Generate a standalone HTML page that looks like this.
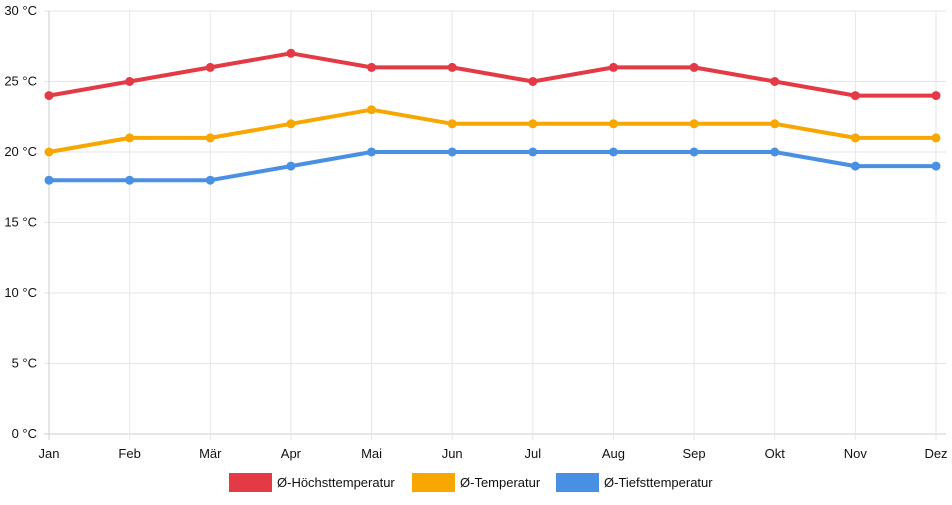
<!DOCTYPE html>
<html><head><meta charset="utf-8"><style>
body{margin:0;background:#fff;font-family:"Liberation Sans",sans-serif;}
svg text{font-family:"Liberation Sans",sans-serif;font-size:13px;fill:#111;}
</style></head><body>
<svg id="c" width="952" height="500"></svg>
<script>
const months=["Jan","Feb","Mär","Apr","Mai","Jun","Jul","Aug","Sep","Okt","Nov","Dez"];
const highs=[24,25,26,27,26,26,25,26,26,25,24,24];
const avgs=[20,21,21,22,23,22,22,22,22,22,21,21];
const lows=[18,18,18,19,20,20,20,20,20,20,19,19];
const yTicks=[0,5,10,15,20,25,30];
const seriesNames=["Ø-Höchsttemperatur","Ø-Temperatur","Ø-Tiefsttemperatur"];
const colors=["#e33a45","#f8a600","#4a90e2"];
const NS="http://www.w3.org/2000/svg";
const svg=document.getElementById('c');
const x0=49,x1=936,yTop=11,yBot=434;
const X=i=>x0+i*(x1-x0)/(months.length-1);
const Y=v=>yBot-v*(yBot-yTop)/30;
function mk(t,a,p){const e=document.createElementNS(NS,t);for(const k in a)e.setAttribute(k,a[k]);(p||svg).appendChild(e);return e;}
yTicks.forEach(v=>{
  const l=mk('line',{x1:x0-5,x2:x1+10,y1:Y(v),y2:Y(v),stroke:v===0?'#ccc':'#e6e6e6'});
  
  
  const t=mk('text',{x:37,y:Y(v)+4,'text-anchor':'end'});t.textContent=v+' °C';
  
  
});
months.forEach((m,i)=>{
  const l=mk('line',{x1:X(i),x2:X(i),y1:yTop,y2:yBot+6,stroke:i===0?'#ccc':'#e6e6e6'});
  
  
  const t=mk('text',{x:X(i),y:458,'text-anchor':'middle'});t.textContent=m;
  
  
});
[highs,avgs,lows].forEach((d,s)=>{
  const g=mk('g',{});
  
  
  const p=mk('polyline',{points:d.map((v,i)=>X(i)+','+Y(v)).join(' '),fill:'none',stroke:colors[s],'stroke-width':4,'stroke-linejoin':'round'},g);
  
  
  d.forEach((v,i)=>{
    const c=mk('circle',{cx:X(i),cy:Y(v),r:4.5,fill:colors[s]},g);
    
    
  });
});
const lx=[229,412,556];
seriesNames.forEach((n,s)=>{
  const g=mk('g',{});
  
  
  mk('rect',{x:lx[s],y:473,width:43,height:19,fill:colors[s]},g);
  const t=mk('text',{x:lx[s]+48,y:487},g);t.textContent=n;
});
</script>
</body></html>
